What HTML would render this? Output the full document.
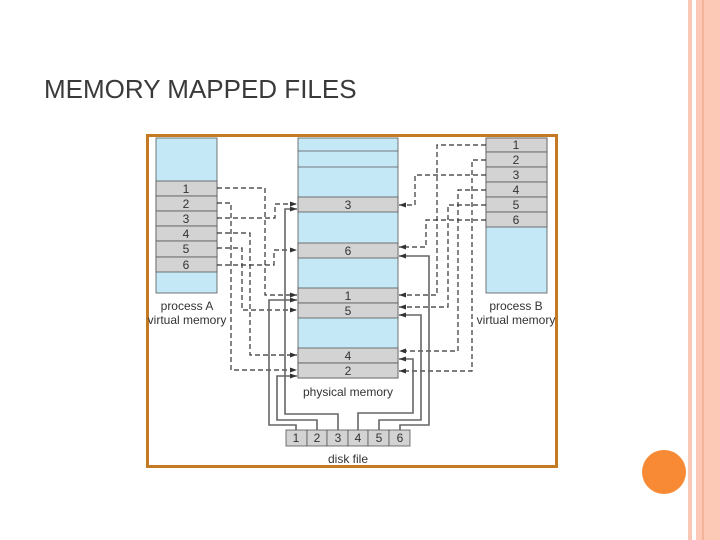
<!DOCTYPE html>
<html><head><style>
body{margin:0;width:720px;height:540px;background:#fff;position:relative;overflow:hidden;font-family:"Liberation Sans",sans-serif}
</style></head><body>
<div style="position:absolute;left:688px;top:0;width:4px;height:540px;background:#f8c8b4"></div>
<div style="position:absolute;left:696px;top:0;width:24px;height:540px;background:#fcc9b6"></div>
<div style="position:absolute;left:702px;top:0;width:2px;height:540px;background:#f4b49c"></div>
<div style="position:absolute;left:642px;top:450px;width:44px;height:44px;border-radius:50%;background:#f98a35"></div>
<div style="position:absolute;left:44px;top:74px;font-size:26px;color:#3a3a3a">MEMORY MAPPED FILES</div>
<svg width="720" height="540" style="position:absolute;left:0;top:0" font-family="Liberation Sans, sans-serif" font-size="12" fill="#333">
<defs><marker id="a" markerUnits="userSpaceOnUse" markerWidth="8" markerHeight="8" refX="7" refY="4" orient="auto"><path d="M0,1.5 L7,4 L0,6.5z" fill="#333"/></marker></defs>
<rect x="147.5" y="135.5" width="409" height="331" fill="#fff" stroke="#c47a22" stroke-width="3"/>
<rect x="156" y="138" width="61" height="155" fill="#c5e8f7" stroke="#555" stroke-width="0.8"/>
<g stroke="#555" stroke-width="0.8" fill="#d3d3d3">
<rect x="156" y="181" width="61" height="15"/><rect x="156" y="196" width="61" height="15"/><rect x="156" y="211" width="61" height="15"/><rect x="156" y="226" width="61" height="15"/><rect x="156" y="241" width="61" height="16"/><rect x="156" y="257" width="61" height="15"/>
</g>
<g text-anchor="middle"><text x="186" y="193">1</text><text x="186" y="208">2</text><text x="186" y="223">3</text><text x="186" y="238">4</text><text x="186" y="253">5</text><text x="186" y="269">6</text>
<text x="187" y="310">process A</text><text x="187" y="324">virtual memory</text></g>
<rect x="486" y="138" width="61" height="155" fill="#c5e8f7" stroke="#555" stroke-width="0.8"/>
<g stroke="#555" stroke-width="0.8" fill="#d3d3d3">
<rect x="486" y="138" width="61" height="14"/><rect x="486" y="152" width="61" height="15"/><rect x="486" y="167" width="61" height="15"/><rect x="486" y="182" width="61" height="15"/><rect x="486" y="197" width="61" height="15"/><rect x="486" y="212" width="61" height="15"/>
</g>
<g text-anchor="middle"><text x="516" y="149">1</text><text x="516" y="164">2</text><text x="516" y="179">3</text><text x="516" y="194">4</text><text x="516" y="209">5</text><text x="516" y="224">6</text>
<text x="516" y="310">process B</text><text x="516" y="324">virtual memory</text></g>
<rect x="298" y="138" width="100" height="240" fill="#c5e8f7" stroke="#555" stroke-width="0.8"/>
<g stroke="#555" stroke-width="0.8"><line x1="298" y1="151" x2="398" y2="151"/><line x1="298" y1="167" x2="398" y2="167"/></g>
<g stroke="#555" stroke-width="0.8" fill="#d3d3d3">
<rect x="298" y="197" width="100" height="15"/><rect x="298" y="243" width="100" height="15"/><rect x="298" y="288" width="100" height="15"/><rect x="298" y="303" width="100" height="15"/><rect x="298" y="348" width="100" height="15"/><rect x="298" y="363" width="100" height="15"/>
</g>
<g text-anchor="middle"><text x="348" y="209">3</text><text x="348" y="255">6</text><text x="348" y="300">1</text><text x="348" y="315">5</text><text x="348" y="360">4</text><text x="348" y="375">2</text>
<text x="348" y="396">physical memory</text><text x="348" y="463">disk file</text></g>
<g stroke="#555" stroke-width="0.8" fill="#d3d3d3">
<rect x="286" y="430" width="21" height="16"/><rect x="307" y="430" width="20" height="16"/><rect x="327" y="430" width="21" height="16"/><rect x="348" y="430" width="20" height="16"/><rect x="368" y="430" width="21" height="16"/><rect x="389" y="430" width="21" height="16"/>
</g>
<g text-anchor="middle"><text x="296" y="442">1</text><text x="317" y="442">2</text><text x="338" y="442">3</text><text x="358" y="442">4</text><text x="379" y="442">5</text><text x="400" y="442">6</text></g>
<g fill="none" stroke="#333" stroke-width="1.2" stroke-dasharray="5,3" marker-end="url(#a)">
<polyline points="217,188 265,188 265,295 297,295"/>
<polyline points="217,203 231,203 231,370 297,370"/>
<polyline points="217,218 275,218 275,204 297,204"/>
<polyline points="217,233 250,233 250,355 297,355"/>
<polyline points="217,248 242,248 242,310 297,310"/>
<polyline points="217,265 274,265 274,250 297,250"/>
<polyline points="486,145 437,145 437,295 399,295"/>
<polyline points="486,160 472,160 472,371 399,371"/>
<polyline points="486,175 415,175 415,205 399,205"/>
<polyline points="486,190 458,190 458,351 399,351"/>
<polyline points="486,205 448,205 448,307 399,307"/>
<polyline points="486,220 426,220 426,247 399,247"/>
</g>
<g fill="none" stroke="#666" stroke-width="1.6" marker-end="url(#a)">
<polyline points="296,430 296,425 269,425 269,300 297,300"/>
<polyline points="317,430 317,420 277,420 277,376 297,376"/>
<polyline points="338,430 338,414 285,414 285,209 297,209"/>
<polyline points="358,430 358,413 413,413 413,359 399,359"/>
<polyline points="379,430 379,420 421,420 421,315 399,315"/>
<polyline points="400,430 400,425 429,425 429,256 399,256"/>
</g>
</svg>
</body></html>
